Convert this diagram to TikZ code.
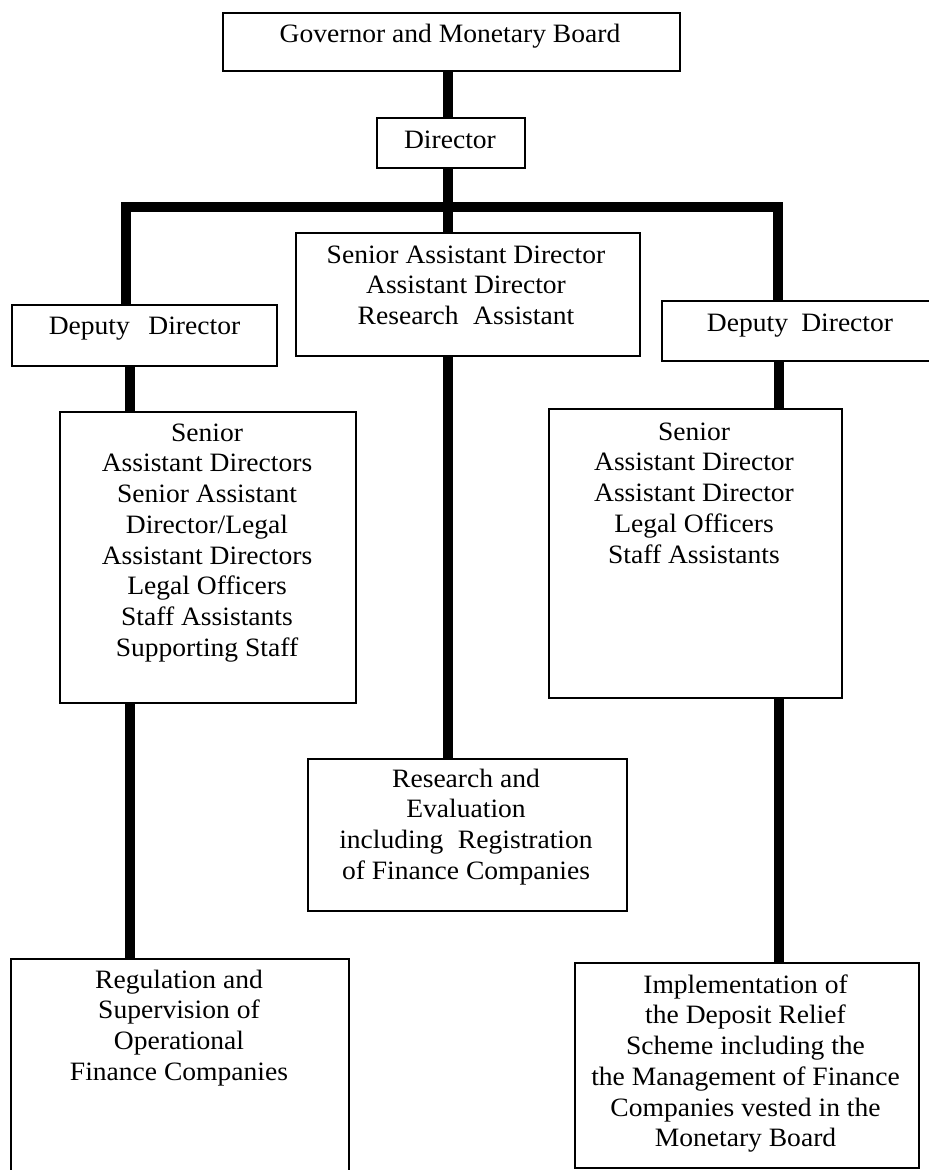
\documentclass[tikz,border=0pt]{standalone}
\usepackage{fontspec}
\setmainfont{Liberation Serif}[FakeStretch=1.04]
\newcommand{\firststrut}{\rule{0pt}{20pt}}
\begin{document}
\begin{tikzpicture}[x=1pt,y=-1pt,
  box/.style={draw, line width=1.5pt, inner sep=0pt, anchor=north west},
  conn/.style={line width=10pt, line cap=butt, line join=miter},
  txt/.style={inner sep=0pt, anchor=north, align=center, font=\fontsize{26.5}{30.7}\selectfont}]
\useasboundingbox (0,0) rectangle (929,1170);
\clip (0,0) rectangle (929,1170);
% boxes
\node[box, minimum width=457pt, minimum height=58pt] (gov) at (222,12) {};
\node[box, minimum width=148pt, minimum height=50pt] (dir) at (376,117) {};
\node[box, minimum width=265pt, minimum height=61pt] (depL) at (11,304) {};
\node[box, minimum width=344pt, minimum height=123pt] (ctr) at (295,232) {};
\node[box, minimum width=280pt, minimum height=60pt] (depR) at (661,300) {};
\node[box, minimum width=296pt, minimum height=291pt] (staffL) at (59,411) {};
\node[box, minimum width=293pt, minimum height=289pt] (staffR) at (548,408) {};
\node[box, minimum width=319pt, minimum height=152pt] (res) at (307,758) {};
\node[box, minimum width=338pt, minimum height=230pt] (reg) at (10,958) {};
\node[box, minimum width=344pt, minimum height=205pt] (impl) at (574,962) {};
% texts
\node[txt] (tgov) at (450,22.5) {\firststrut Governor and Monetary Board};
\node[txt] (tdir) at (450,128) {\firststrut Director};
\node[txt] (tdepL) at (144.5,314) {\firststrut Deputy\hspace{0.7em}Director};
\node[txt] (tctr) at (466,243) {\firststrut Senior Assistant Director\\Assistant Director\\Research\hspace{0.55em}Assistant};
\node[txt] (tdepR) at (800,311) {\firststrut Deputy\hspace{0.5em}Director};
\node[txt] (tstaffL) at (207,421) {\firststrut Senior\\Assistant Directors\\Senior Assistant\\Director/Legal\\Assistant Directors\\Legal Officers\\Staff Assistants\\Supporting Staff};
\node[txt] (tstaffR) at (694,420) {\firststrut Senior\\Assistant Director\\Assistant Director\\Legal Officers\\Staff Assistants};
\node[txt] (tres) at (466,767) {\firststrut Research and\\Evaluation\\including\hspace{0.55em}Registration\\of Finance Companies};
\node[txt] (treg) at (179,968) {\firststrut Regulation and\\Supervision of\\Operational\\Finance Companies};
\node[txt] (timpl) at (745.5,973) {\firststrut Implementation of\\the Deposit Relief\\Scheme including the\\the Management of Finance\\Companies vested in the\\Monetary Board};
% connectors
\coordinate (cx) at (448,207);
\coordinate (jL) at (126,207);
\coordinate (jR) at (778,207);
\coordinate (xL) at (130,0);
\coordinate (xR) at (779,0);
\draw[conn] (cx |- gov.south) -- (cx |- dir.north);
\draw[conn] (cx |- dir.south) -- (cx |- ctr.north);
\draw[conn] (jL |- depL.north) -- (jL) -- (jR) -- (jR |- depR.north);
\draw[conn] (xL |- depL.south) -- (xL |- staffL.north);
\draw[conn] (xR |- depR.south) -- (xR |- staffR.north);
\draw[conn] (cx |- ctr.south) -- (cx |- res.north);
\draw[conn] (xL |- staffL.south) -- (xL |- reg.north);
\draw[conn] (xR |- staffR.south) -- (xR |- impl.north);
\end{tikzpicture}
\end{document}
